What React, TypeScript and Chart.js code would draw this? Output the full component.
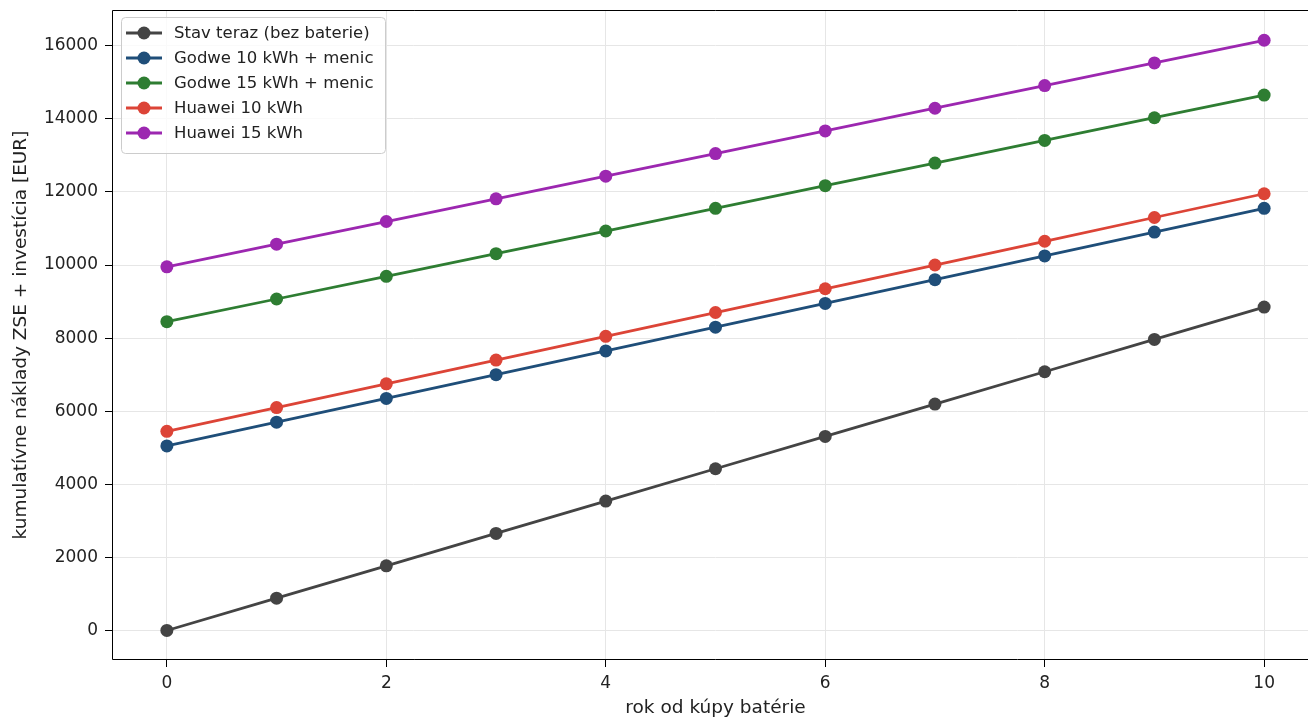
import React, { useEffect, useRef } from "react";
import { Chart, registerables } from "chart.js";

Chart.register(...registerables);

const years = [0, 1, 2, 3, 4, 5, 6, 7, 8, 9, 10];
const stavTeraz = [0, 885, 1770, 2655, 3540, 4425, 5310, 6195, 7080, 7965, 8850];
const godwe10 = [5050, 5700, 6350, 7000, 7650, 8300, 8950, 9600, 10250, 10900, 11550];
const godwe15 = [8450, 9070, 9690, 10310, 10930, 11550, 12170, 12790, 13410, 14030, 14650];
const huawei10 = [5450, 6100, 6750, 7400, 8050, 8700, 9350, 10000, 10650, 11300, 11950];
const huawei15 = [9950, 10570, 11190, 11810, 12430, 13050, 13670, 14290, 14910, 15530, 16150];

const seriesLabels = [
  "Stav teraz (bez baterie)",
  "Godwe 10 kWh + menic",
  "Godwe 15 kWh + menic",
  "Huawei 10 kWh",
  "Huawei 15 kWh",
];
const seriesColors = ["#444444", "#1f4e79", "#2e7d32", "#dc4437", "#9c27b0"];

const xTicks = [0, 2, 4, 6, 8, 10];
const yTicks = [0, 2000, 4000, 6000, 8000, 10000, 12000, 14000, 16000];

const xLabel = "rok od kúpy batérie";
const yLabel = "kumulatívne náklady ZSE + investícia [EUR]";

const FONT = "'DejaVu Sans', sans-serif";

const framePlugin = {
  id: "frameAndLegend",
  afterDraw(chart: any) {
    const ctx = chart.ctx as CanvasRenderingContext2D;
    const { left, top, right, bottom } = chart.chartArea;
    ctx.save();
    ctx.strokeStyle = "#000000";
    ctx.lineWidth = 1;
    ctx.beginPath();
    ctx.moveTo(right, top + 0.5);
    ctx.lineTo(left + 0.5, top + 0.5);
    ctx.lineTo(left + 0.5, bottom - 0.5);
    ctx.lineTo(right, bottom - 0.5);
    ctx.stroke();

    // legend box
    const x0 = left + 9;
    const y0 = top + 7;
    const w = 264;
    const h = 136;
    ctx.beginPath();
    (ctx as any).roundRect(x0 + 0.5, y0 + 0.5, w, h, 4);
    ctx.fillStyle = "rgba(255,255,255,0.8)";
    ctx.fill();
    ctx.strokeStyle = "#cccccc";
    ctx.stroke();
    ctx.font = `16.5px ${FONT}`;
    ctx.textBaseline = "middle";
    ctx.textAlign = "left";
    chart.data.datasets.forEach((ds: any, i: number) => {
      const y = y0 + 16 + i * 25;
      ctx.strokeStyle = ds.borderColor;
      ctx.lineWidth = 2.8;
      ctx.beginPath();
      ctx.moveTo(x0 + 5, y);
      ctx.lineTo(x0 + 41, y);
      ctx.stroke();
      ctx.beginPath();
      ctx.arc(x0 + 23, y, 6.5, 0, Math.PI * 2);
      ctx.fillStyle = ds.backgroundColor;
      ctx.fill();
      ctx.fillStyle = "#222222";
      ctx.fillText(ds.label, x0 + 53, y + 1);
    });
    ctx.restore();
  },
};

const zeroPad = (axis: any) => {
  axis.paddingTop = 0;
  axis.paddingBottom = 0;
  axis.paddingLeft = 0;
  axis.paddingRight = 0;
};

export default function App() {
  const ref = useRef<HTMLCanvasElement | null>(null);
  useEffect(() => {
    if (!ref.current) return;
    const all = [stavTeraz, godwe10, godwe15, huawei10, huawei15];
    const chart = new Chart(ref.current, {
      type: "line",
      data: {
        datasets: all.map((vals, i) => ({
          label: seriesLabels[i],
          data: vals.map((v, j) => ({ x: years[j], y: v })),
          borderColor: seriesColors[i],
          backgroundColor: seriesColors[i],
          pointBackgroundColor: seriesColors[i],
          pointBorderColor: seriesColors[i],
          pointRadius: 6.5,
          pointBorderWidth: 0,
          borderWidth: 2.8,
          tension: 0,
          clip: false,
        })),
      },
      options: {
        responsive: false,
        animation: false,
        layout: { autoPadding: false, padding: { top: 10, right: 1, left: 0, bottom: 0 } },
        plugins: {
          legend: { display: false },
          title: { display: false },
          tooltip: { enabled: false },
        },
        scales: {
          x: {
            type: "linear",
            min: -0.5,
            max: 10.5,
            afterBuildTicks: (axis: any) => {
              axis.ticks = xTicks.map((v) => ({ value: v }));
            },
            afterFit: (axis: any) => {
              axis.height = 57;
              zeroPad(axis);
            },
            grid: {
              color: "#e6e6e6",
              tickColor: "#000000",
              tickLength: 7,
              drawTicks: true,
            },
            border: { display: false },
            ticks: {
              color: "#222222",
              font: { family: FONT, size: 17 },
              padding: 6,
              maxRotation: 0,
            },
            title: {
              display: true,
              text: xLabel,
              color: "#222222",
              font: { family: FONT, size: 18.5 },
              padding: { top: 4, bottom: -2 },
            },
          },
          y: {
            type: "linear",
            min: -808,
            max: 16978,
            afterBuildTicks: (axis: any) => {
              axis.ticks = yTicks.map((v) => ({ value: v }));
            },
            afterFit: (axis: any) => {
              axis.width = 112;
              zeroPad(axis);
            },
            grid: {
              color: "#e6e6e6",
              tickColor: "#000000",
              tickLength: 7,
              drawTicks: true,
            },
            border: { display: false },
            ticks: {
              color: "#222222",
              font: { family: FONT, size: 17 },
              padding: 7,
              callback: (v: any) => String(v),
            },
            title: {
              display: true,
              text: yLabel,
              color: "#222222",
              font: { family: FONT, size: 18.5 },
              padding: { top: 10, bottom: 0 },
            },
          },
        },
      },
      plugins: [framePlugin],
    } as any);
    return () => chart.destroy();
  }, []);
  return (
    <div
      style={{
        position: "fixed",
        left: 0,
        top: 0,
        width: 1308,
        height: 717,
        overflow: "hidden",
        background: "#fff",
      }}
    >
      <canvas ref={ref} width={1320} height={717} style={{ display: "block" }} />
    </div>
  );
}
